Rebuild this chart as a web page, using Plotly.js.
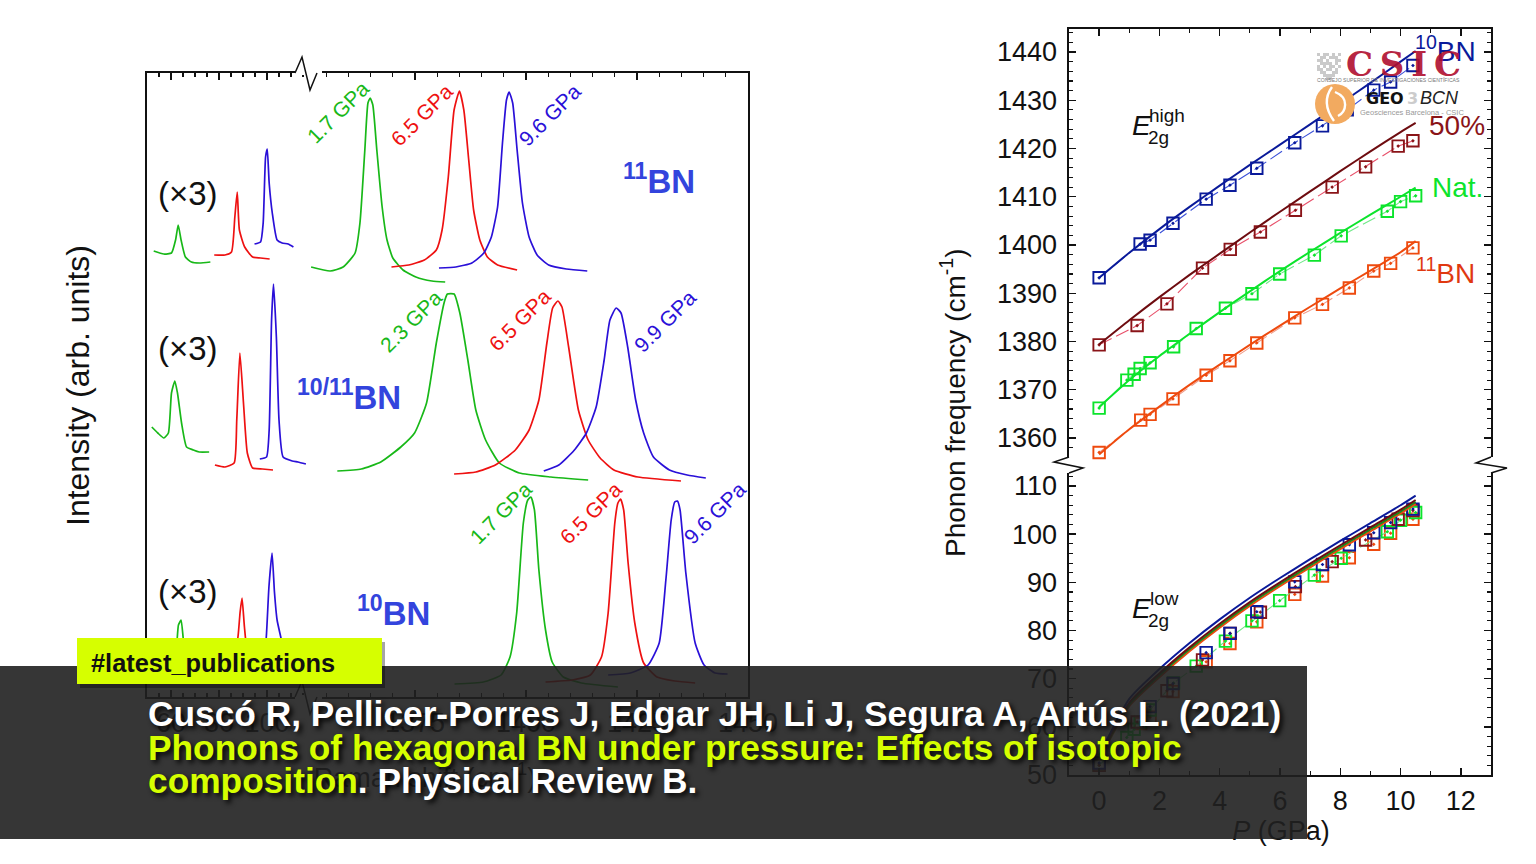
<!DOCTYPE html>
<html><head><meta charset="utf-8">
<script src="https://cdn.plot.ly/plotly-3.0.1.min.js"></script>
<style>html,body{margin:0;padding:0;background:#fff;overflow:hidden}#c{width:1536px;height:864px}</style>
</head><body><div id="c"></div>
<script>
// ---------- Left panel: Raman spectra (cm-1, arb. units) ----------
const a11_gx=[52.8,57,60.2,61.9,63,64.2,66,68.5,71.8,76.4];
const a11_gy=[446,443,444,457,472,457,440,435,434,435];
const a11_rx=[78,82.5,85.2,86.6,87.6,88.5,90.7,94,97.3,101.1];
const a11_ry=[442,442,445,480,505,467,450,440,439,438];
const a11_bx=[94.8,97.3,98.4,99.4,100.1,100.9,102.2,104.2,106.3,108.8,111];
const a11_by=[453,455,474,540,548,514,484,457,454,453,450];
const h11_gx=[1351.6,1355.9,1358.8,1361.5,1362.6,1363.7,1364.4,1364.9,1365.5,1366.4,1367.6,1368.7,1370,1372.3,1375.2,1378.8,1381.8];
const h11_gy=[430,426,430,444,474,547,594,599,592,547,490,457,439,427,420,416,415];
const h11_rx=[1369.7,1373.6,1377.1,1379.8,1381.1,1382.5,1383.8,1385,1386,1387.1,1388.2,1389.6,1391.3,1393.6,1398];
const h11_ry=[430,432,437,447,467,520,587,606,587,537,487,457,440,432,427];
const h11_bx=[1380.4,1384.2,1387.8,1390.5,1392.2,1393.6,1394.7,1395.6,1396.2,1397,1398,1399.2,1400.7,1402.5,1405.1,1409.1,1413.8];
const h11_by=[429,430,434,444,460,490,554,597,605,594,547,494,460,442,432,428,426];

const a50_gx=[52,54.5,57,58.9,60.2,61.6,62.7,64.4,66.5,69.3,71.8,75.9];
const a50_gy=[270,264,259,264,304,316,304,274,250,247,245,245];
const a50_rx=[78.3,82.5,86.3,87.4,88.7,90.2,91.8,94,98.1,102.5];
const a50_ry=[232,230,234,277,344,294,244,229,228,227];
const a50_bx=[97,99.8,100.9,101.9,102.7,103.9,105,106.7,110.5,112.9,116.2];
const a50_by=[238,240,267,377,413,360,277,240,236,235,233];
const h50_gx=[1357.5,1362.9,1367.3,1371.8,1374.9,1377.6,1379.8,1381.6,1382.3,1383.8,1385.1,1386.9,1388.7,1390.9,1394,1398.5,1405.6,1414];
const h50_gy=[226,228,235,250,264,294,354,395,403,403,384,337,287,257,234,224,220,217];
const h50_rx=[1383.8,1388.7,1393.1,1397.6,1400.7,1402.9,1404.7,1406,1407.2,1408.1,1409.6,1411.8,1414,1416.7,1419.8,1425.2,1434.9];
const h50_ry=[223,225,232,247,267,297,354,389,396,390,350,287,257,239,227,220,216];
const h50_bx=[1404,1407.4,1410.9,1413.6,1415.8,1417.6,1418.9,1420.3,1421.4,1422.9,1424.7,1426.5,1428.7,1432.3,1436.3,1440.5];
const h50_by=[226,232,247,264,290,337,377,389,384,350,297,264,240,227,222,219];

const a10_gx=[52,59.6,62.1,63.1,64.2,65.4,67.1,76.2];
const a10_gy=[35,35,47,72,77,52,37,32];
const a10_rx=[78.3,85.4,87.9,88.8,89.6,90.6,92.1,95,97.9];
const a10_ry=[30,30,60,85,99,70,40,30,28];
const a10_bx=[95,98.4,99.7,100.8,102.1,103.1,104.2,106,107.9,113.7];
const a10_by=[30,32,60,110,144,105,77,57,32,28];
const h10_gx=[1383.9,1390.4,1394.4,1396.4,1397.9,1399.4,1400.4,1401.1,1401.9,1402.9,1404.4,1405.9,1408.4,1412.5,1420.7];
const h10_gy=[13,15,22,40,84,174,197,200,187,127,67,35,20,14,10];
const h10_rx=[1404.4,1410.4,1414.5,1417,1418.5,1420,1420.7,1421.3,1422,1423,1424.5,1426.5,1429.5,1433.5,1438.1];
const h10_ry=[15,17,22,40,84,174,194,198,187,134,74,34,20,16,14];
const h10_bx=[1418.5,1423.5,1427.5,1430,1431.5,1432.7,1433.5,1434.1,1434.7,1436,1438.1,1440.1,1442.6,1445.4];
const h10_by=[22,24,32,54,117,177,195,196,187,124,54,32,24,23];

// ---------- Right panel: phonon frequency vs pressure ----------
const fitP=[0,1,2,3,4,5,6,7,8,9,10,10.5];
const hi10_fit=[1393.2,1398.4,1403.3,1407.9,1412.3,1416.6,1420.8,1425,1429.3,1433.6,1438,1440.2];
const hi50_fit=[1379.4,1384.4,1389.2,1393.8,1398.2,1402.6,1406.9,1411.1,1415.3,1419.4,1423.4,1425.3];
const hiNat_fit=[1366.4,1372,1377,1381.6,1386.1,1390.4,1394.6,1398.6,1402.5,1406.3,1410,1411.9];
const hi11_fit=[1356.6,1361.8,1366.5,1371,1375.2,1379.3,1383.3,1387.2,1391,1394.7,1398.5,1400.8];
const lo10_fit=[54,65.8,72,77.4,82.3,86.8,90.9,94.8,98.6,102.3,106,108];
const lo50_fit=[53.6,65,71.1,76.5,81.4,85.9,90,93.9,97.7,101.4,105.1,107.1];
const loNat_fit=[53.4,64.6,70.7,76.1,81,85.5,89.6,93.5,97.3,101,104.7,106.7];
const lo11_fit=[53.2,64.3,70.3,75.7,80.6,85.1,89.2,93.1,96.9,100.6,104.3,106.3];

const P10=[0,1.36,1.69,2.45,3.55,4.34,5.23,6.49,7.41,8.23,9.11,9.67,10.41];
const hi10=[1393.2,1400.2,1401,1404.5,1409.5,1412.4,1415.9,1421.2,1424.7,1428,1432.1,1433.8,1437.2];
const P50=[0,1.26,2.25,3.43,4.35,5.35,6.51,7.73,8.84,9.92,10.41];
const hi50=[1379.3,1383.3,1387.8,1395.2,1399.1,1402.7,1407.2,1412,1416.2,1420.5,1421.6];
const PNat=[0,0.92,1.16,1.36,1.69,2.47,3.22,4.19,5.07,5.99,7.14,8.03,9.56,10,10.5];
const hiNat=[1366.2,1372,1373.2,1374.4,1375.6,1378.9,1382.7,1386.9,1389.9,1394,1397.9,1401.9,1407,1409,1410.2];
const P11=[0,1.38,1.69,2.45,3.55,4.34,5.23,6.49,7.41,8.3,9.11,9.67,10.41];
const hi11=[1357,1363.7,1364.9,1368.1,1373,1376,1379.7,1384.9,1387.7,1391.1,1394.6,1396.2,1399.4];
const lo10P=[0,1.69,2.45,3.55,4.34,5.23,6.49,7.41,8.3,9.11,9.67,10.41];
const lo10=[52.5,64.2,69,75.4,79.4,83.9,90.1,93.7,97.8,100.3,102.4,105.2];
const lo50=[52,61,67.5,73.9,79.4,83.8,89.1,94.3,98.8,103.1,104.9];
const loNat=[52,57.8,59.5,61,63.5,69.1,72.6,77.8,82,86.2,91.5,95,100.5,102.9,104.5];
const lo11=[52.3,60.7,62,67.3,73.5,77.3,81.8,87.5,91.3,95.1,97.9,100.2,103.1];

const xTickLow=[60,80,100], xTickHigh=[1375,1400,1425,1450];

const W=1536,H=864,FONT='"Liberation Sans",Arial,sans-serif';
const X=p=>p/W, Y=p=>1-p/H;
const GR='#18b818',RD='#ee1111',BL='#2a10d8';
const NAVY='#0a1a9a',DRED='#8a1418',LIME='#0ce42c',ORG='#ee4a0e';

function spec(x,y,c,ax){return {x,y,mode:'lines',type:'scatter',xaxis:'x'+ax,yaxis:'y'+ax,hoverinfo:'skip',
  line:{color:c,width:1.7,shape:'spline',smoothing:0.5}};}
function fit(y,c,ax){return {x:fitP,y,mode:'lines',xaxis:ax,yaxis:ax.replace('x','y'),hoverinfo:'skip',line:{color:c,width:2,shape:'spline',smoothing:0.6}};}
function pts(x,y,c,lc,ax,dashed){return {x,y,mode:dashed?'lines+markers':'markers',xaxis:ax,yaxis:ax.replace('x','y'),hoverinfo:'skip',
  line:{color:lc,width:1.1,dash:'14px,5px'},
  marker:{symbol:'square-open-dot',size:11.5,color:c,line:{color:c,width:1.9}},cliponaxis:false};}
function label(t,x,y){return {x:[x],y:[y],mode:'text',text:[t],xaxis:'x5',yaxis:'y5',hoverinfo:'skip',
  textposition:'middle center',textfont:{family:FONT,size:27,color:'#111'}};}

const traces=[
 spec(a11_gx,a11_gy,GR,3),spec(a11_rx,a11_ry,RD,3),spec(a11_bx,a11_by,BL,3),
 spec(a50_gx,a50_gy,GR,3),spec(a50_rx,a50_ry,RD,3),spec(a50_bx,a50_by,BL,3),
 spec(a10_gx,a10_gy,GR,3),spec(a10_rx,a10_ry,RD,3),spec(a10_bx,a10_by,BL,3),
 spec(h11_gx,h11_gy,GR,4),spec(h11_rx,h11_ry,RD,4),spec(h11_bx,h11_by,BL,4),
 spec(h50_gx,h50_gy,GR,4),spec(h50_rx,h50_ry,RD,4),spec(h50_bx,h50_by,BL,4),
 spec(h10_gx,h10_gy,GR,4),spec(h10_rx,h10_ry,RD,4),spec(h10_bx,h10_by,BL,4),
 pts(P10,hi10,NAVY,'#3a50d8','x2',true),pts(P50,hi50,DRED,'#e8506a','x2',true),
 pts(PNat,hiNat,LIME,'#70e888','x2',true),pts(P11,hi11,ORG,'#f09a88','x2',true),
 fit(hi10_fit,NAVY,'x2'),fit(hi50_fit,'#6e0c10','x2'),fit(hiNat_fit,LIME,'x2'),fit(hi11_fit,ORG,'x2'),
 pts(P11,lo11,ORG,ORG,'x',false),pts(PNat,loNat,LIME,'#70e888','x',true),
 pts(P50,lo50,DRED,DRED,'x',false),pts(lo10P,lo10,NAVY,NAVY,'x',false),
 fit(lo11_fit,ORG,'x'),fit(loNat_fit,'#1a8a1a','x'),fit(lo50_fit,'#6e0c10','x'),fit(lo10_fit,NAVY,'x'),
 label('<i>P</i> (GPa)',1281,833),
 label('Raman shift (cm<sup>-1</sup>)',425,780)
];

const axBase={showgrid:false,zeroline:false,showline:true,linecolor:'#111',linewidth:1.6,ticks:'inside',tickcolor:'#111',tickwidth:1.4,
  tickfont:{family:FONT,size:27,color:'#111'}};
const minorT=d=>({dtick:d,ticks:'inside',ticklen:4,tickcolor:'#111',tickwidth:1.1});
const layout={width:W,height:H,margin:{l:0,r:0,t:0,b:0},paper_bgcolor:'#fff',plot_bgcolor:'rgba(0,0,0,0)',showlegend:false,
 xaxis:{...axBase,domain:[X(1069),X(1491)],range:[-1,13],anchor:'y',tickmode:'linear',tick0:0,dtick:2,ticklen:7,ticklabelstandoff:1,minor:minorT(1)},
 yaxis:{...axBase,domain:[Y(775),Y(473)],range:[50,112.7],anchor:'x',mirror:'ticks',tickmode:'linear',tick0:50,dtick:10,ticklen:7,ticklabelstandoff:5,minor:minorT(2)},
 xaxis2:{...axBase,domain:[X(1069),X(1491)],range:[-1,13],anchor:'y2',side:'top',showticklabels:false,tickmode:'linear',tick0:0,dtick:2,ticklen:7,minor:minorT(1)},
 yaxis2:{...axBase,domain:[Y(457),Y(29)],range:[1356.06,1444.77],anchor:'x2',mirror:'ticks',tickmode:'linear',tick0:1360,dtick:10,ticklen:7,ticklabelstandoff:5,minor:minorT(2)},
 xaxis3:{...axBase,domain:[X(147),X(308)],range:[50,117.08],anchor:'y3',mirror:'ticks',tickmode:'array',tickvals:xTickLow,ticktext:xTickLow.map(String),ticklen:7,ticklabelstandoff:1,minor:minorT(5)},
 yaxis3:{...axBase,domain:[Y(697),Y(73)],range:[0,624],anchor:'x3',ticks:'',showticklabels:false},
 xaxis4:{...axBase,domain:[X(310),X(748)],range:[1351.35,1450],anchor:'y4',mirror:'ticks',tickmode:'array',tickvals:xTickHigh,ticktext:xTickHigh.map(String),ticklen:7,ticklabelstandoff:1,minor:minorT(5)},
 yaxis4:{...axBase,domain:[Y(697),Y(73)],range:[0,624],anchor:'x4',side:'right',ticks:'',showticklabels:false},
 xaxis5:{domain:[0,1],range:[0,W],anchor:'y5',visible:false},
 yaxis5:{domain:[0,1],range:[H,0],anchor:'x5',visible:false},
 shapes:[],annotations:[]
};

function zig(pts,c,w){return {type:'path',xref:'paper',yref:'paper',line:{color:c,width:w},
  path:pts.map((p,i)=>(i?'L':'M')+X(p[0])+','+Y(p[1])).join(' ')};}
function rect(x0,y0,x1,y1,fill,extra){return Object.assign({type:'rect',xref:'paper',yref:'paper',x0:X(x0),x1:X(x1),y0:Y(y1),y1:Y(y0),
  fillcolor:fill,line:{width:0}},extra||{});}
const S=layout.shapes;
// axis breaks
S.push(zig([[295,73],[322,73]],'#fff',4),zig([[295,697],[322,697]],'#fff',4));
S.push(zig([[295,73],[302,57],[310,90],[317,73]],'#111',1.5),zig([[295,697],[302,681],[310,714],[317,697]],'#111',1.5));
S.push(zig([[1069,457],[1069,473]],'#fff',4),zig([[1491,457],[1491,473]],'#fff',4));
S.push(zig([[1069,457],[1054,462],[1083,468],[1069,473]],'#111',1.5),zig([[1491,457],[1476,463],[1507,468],[1491,473]],'#111',1.5));
// logos
const cells=['10110101','01101110','11010011','01111010','10101101','11011010','01100110','00111100','00011000'];
cells.forEach((row,j)=>row.split('').forEach((b,i)=>{ if(b==='1') S.push(rect(1317+i*3,53+j*3,1320+i*3,56+j*3,'rgba(150,150,150,0.5)')); }));
S.push({type:'circle',xref:'paper',yref:'paper',x0:X(1315),x1:X(1355),y0:Y(124),y1:Y(84),fillcolor:'#f2aa60',line:{width:0}});
S.push({type:'path',xref:'paper',yref:'paper',line:{color:'#fff',width:2.4},path:`M${X(1332)},${Y(87)} C${X(1324)},${Y(98)} ${X(1326)},${Y(110)} ${X(1334)},${Y(121)}`});
S.push({type:'path',xref:'paper',yref:'paper',line:{color:'#fff',width:2.4},path:`M${X(1335)},${Y(92)} C${X(1350)},${Y(98)} ${X(1346)},${Y(112)} ${X(1338)},${Y(116)}`});
// dark band and tag
S.push(rect(0,666,1307,839,'rgba(32,32,32,0.9)'));
S.push(rect(80,642,385,688,'rgba(0,0,0,0.35)'));
S.push(rect(77,638,382,684,'#d6ff00'));

const A=layout.annotations;
function note(t,x,y,size,c,o){A.push(Object.assign({text:t,xref:'paper',yref:'paper',x:X(x),y:Y(y),xanchor:'center',yanchor:'middle',showarrow:false,
  font:{family:FONT,size,color:c}},o||{}));}
function fontShadow(t,x,y,size,c){A.push({text:t,xref:'paper',yref:'paper',x:X(x),y:Y(y),xanchor:'left',yanchor:'middle',showarrow:false,align:'left',
  font:{family:FONT,size,color:c,weight:700,shadow:'3px 3px 5px rgba(0,0,0,0.9)'}});}
note('Intensity (arb. units)',78,386,32,'#111',{textangle:-90});
note('Phonon frequency (cm<sup>-1</sup>)',953,403,28,'#111',{textangle:-90});
[['1.7 GPa',338,113,GR],['6.5 GPa',421,115,RD],['9.6 GPa',549,115,BL],
 ['2.3 GPa',411,322,GR],['6.5 GPa',519,320,RD],['9.9 GPa',665,322,BL],
 ['1.7 GPa',500,513,GR],['6.5 GPa',590,513,RD],['9.6 GPa',714,513,BL]].forEach(a=>note(a[0],a[1],a[2],21,a[3],{textangle:-45}));
[[188,194],[188,349],[188,591]].forEach(p=>note('(×3)',p[0],p[1],33,'#111'));
note('<b><sup>11</sup>BN</b>',659,179,33,'#3344dd');
note('<b><sup>10/11</sup>BN</b>',349,395,33,'#3344dd');
note('<b><sup>10</sup>BN</b>',393,611,33,'#3344dd');
note('<sup>10</sup>BN',1445,49,28,NAVY);
note('50%',1457,125,28,DRED);
note('Nat.',1457,188,28,LIME);
note('<sup>11</sup>BN',1445,271,28,'#e03810');
note('<i>E</i>',1141,125,28,'#111'); note('high',1167,115,19,'#111'); note('2g',1158,137,19,'#111');
note('<i>E</i>',1141,608,28,'#111'); note('low',1164,598,19,'#111'); note('2g',1158,620,19,'#111');
// logo text
note('C\u2009S\u2009I\u2009C',1403,64,34,'rgba(176,16,48,0.92)',{font:{family:'"DejaVu Serif",serif',size:34,color:'rgba(176,16,48,0.92)',weight:700}});
note('CONSEJO SUPERIOR DE INVESTIGACIONES CIENTÍFICAS',1388,80,5.1,'#777');
note('GEO',1385,98,16,'#111',{font:{family:'"DejaVu Sans",sans-serif',size:16,color:'#111',weight:700}});
note('3',1412,98,16,'#ccc',{font:{family:'"DejaVu Sans",sans-serif',size:16,color:'#ccc',weight:700}});
note('<i>BCN</i>',1439,98,18,'#222');
note('Geosciences Barcelona - CSIC',1412,112,7.5,'#999');
// overlay text
note('#latest_publications',213,663,25.4,'#111',{font:{family:FONT,size:25.4,color:'#111',weight:700}});
fontShadow('Cuscó R, Pellicer-Porres J, Edgar JH, Li J, Segura A, Artús L. (2021)',146,713,35.3,'#ffffff');
fontShadow('Phonons of hexagonal BN under pressure: Effects of isotopic',146,747,35.3,'#d6ff00');
fontShadow('<span style="color:#d6ff00">composition</span>. Physical Review B.',146,780,35.3,'#ffffff');

Plotly.newPlot('c',traces,layout,{displayModeBar:false,staticPlot:true});
</script></body></html>
